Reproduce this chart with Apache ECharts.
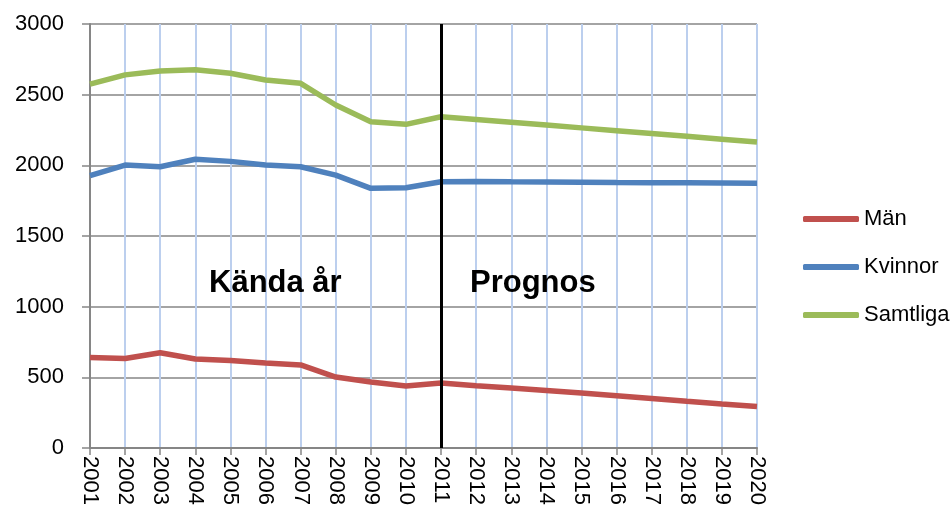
<!DOCTYPE html>
<html>
<head>
<meta charset="utf-8">
<script src="https://cdn.jsdelivr.net/npm/echarts@6/dist/echarts.min.js"></script>
<style>
  html, body { margin: 0; padding: 0; background: #fff; }
  #chart { width: 950px; height: 517px; }
</style>
</head>
<body>
<div id="chart"></div>
<script>
const years = ["2001", "2002", "2003", "2004", "2005", "2006", "2007", "2008", "2009", "2010",
  "2011", "2012", "2013", "2014", "2015", "2016", "2017", "2018", "2019", "2020"];
const man = [640, 633, 674, 630, 619, 602, 588, 502, 467, 439,
  460, 441, 424, 407, 389, 370, 350, 330, 311, 293];
const kvinnor = [1927, 2002, 1990, 2043, 2028, 2002, 1990, 1931, 1837, 1842,
  1884, 1885, 1883, 1882, 1880, 1878, 1877, 1876, 1875, 1874];
const samtliga = [2575, 2640, 2667, 2677, 2651, 2604, 2580, 2427, 2309, 2290,
  2344, 2325, 2305, 2285, 2265, 2245, 2225, 2205, 2185, 2165];
const splitYear = "2011";

const chart = echarts.init(document.getElementById("chart"));

function lineSeries(name, data, color) {
  return {
    name: name,
    type: "line",
    data: data,
    showSymbol: false,
    lineStyle: { color: color, width: 5.5 },
    itemStyle: { color: color },
    z: 3
  };
}

const series = [
  lineSeries("Män", man, "#C0504D"),
  lineSeries("Kvinnor", kvinnor, "#4F81BD"),
  lineSeries("Samtliga", samtliga, "#9BBB59")
];
// black divider between known years and forecast
series[0].markLine = {
  silent: true,
  symbol: "none",
  label: { show: false },
  lineStyle: { color: "#000", width: 3, type: "solid" },
  data: [{ xAxis: splitYear }]
};

chart.setOption({
  animation: false,
  grid: { left: 90, right: 193, top: 24, bottom: 69 },
  legend: {
    orient: "vertical",
    left: 798,
    top: 203,
    itemWidth: 56,
    itemHeight: 6,
    itemGap: 26,
    icon: "roundRect",
    textStyle: { fontFamily: "Liberation Sans", fontSize: 22, color: "#000" },
    data: ["Män", "Kvinnor", "Samtliga"]
  },
  xAxis: {
    type: "category",
    data: years,
    boundaryGap: false,
    axisLine: { lineStyle: { color: "#868686", width: 2 } },
    axisTick: { show: true, length: 7, lineStyle: { color: "#868686", width: 1.5 } },
    axisLabel: {
      rotate: -90,
      interval: 0,
      margin: 8,
      fontFamily: "Liberation Sans",
      fontSize: 22,
      color: "#000"
    },
    splitLine: { show: true, lineStyle: { color: "#bccfee", width: 2 } }
  },
  yAxis: {
    type: "value",
    min: 0,
    max: 3000,
    interval: 500,
    axisLine: { show: true, lineStyle: { color: "#868686", width: 2 } },
    axisTick: { show: true, length: 8, lineStyle: { color: "#868686", width: 1.5 } },
    axisLabel: {
      margin: 26,
      fontFamily: "Liberation Sans",
      fontSize: 22,
      color: "#000",
      formatter: function (v) { return String(v); }
    },
    splitLine: { show: true, lineStyle: { color: "#868686", width: 1.5 } }
  },
  graphic: [
    {
      type: "text",
      z: 100,
      x: 209,
      y: 283,
      style: { text: "Kända år", font: "bold 31px 'Liberation Sans'", fill: "#000", textVerticalAlign: "middle" }
    },
    {
      type: "text",
      z: 100,
      x: 470,
      y: 283,
      style: { text: "Prognos", font: "bold 31px 'Liberation Sans'", fill: "#000", textVerticalAlign: "middle" }
    }
  ],
  series: series
});
</script>
</body>
</html>
